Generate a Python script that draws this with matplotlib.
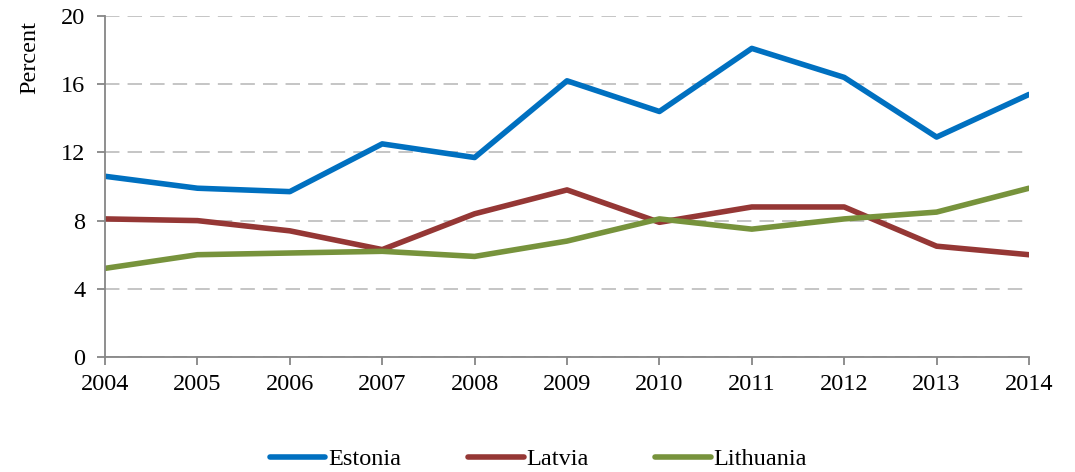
import matplotlib
matplotlib.use('Agg')
import matplotlib.pyplot as plt

years = [2004, 2005, 2006, 2007, 2008, 2009, 2010, 2011, 2012, 2013, 2014]
estonia = [10.6, 9.9, 9.7, 12.5, 11.7, 16.2, 14.4, 18.1, 16.4, 12.9, 15.4]
latvia = [8.1, 8.0, 7.4, 6.3, 8.4, 9.8, 7.9, 8.8, 8.8, 6.5, 6.0]
lithuania = [5.2, 6.0, 6.1, 6.2, 5.9, 6.8, 8.1, 7.5, 8.1, 8.5, 9.9]
yticks = [0, 4, 8, 12, 16, 20]

plt.rcParams['font.family'] = ['Liberation Serif', 'DejaVu Serif']
fs = 17.5

fig = plt.figure(figsize=(10.75, 4.72), dpi=100)
ax = fig.add_axes([0.0977, 0.2436, 0.8595, 0.7225])

ax.plot(years, estonia, color='#0070c0', lw=4, label='Estonia', solid_capstyle='round')
ax.plot(years, latvia, color='#953735', lw=4, label='Latvia', solid_capstyle='round')
ax.plot(years, lithuania, color='#77933c', lw=4, label='Lithuania', solid_capstyle='round')

ax.set_xlim(2004, 2014)
ax.set_ylim(0, 20)
ax.set_xticks(years)
ax.set_yticks(yticks)
ax.yaxis.grid(True, color='#c0c0c0', linestyle=(0, (8, 4.5)), lw=1.3)
ax.set_axisbelow(True)
for s in ['top', 'right']:
    ax.spines[s].set_visible(False)
for s in ['left', 'bottom']:
    ax.spines[s].set_color('#868686')
    ax.spines[s].set_linewidth(1.3)
ax.tick_params(axis='both', color='#868686', length=6, width=1.3, labelsize=fs)
ax.tick_params(axis='x', pad=6)
ax.tick_params(axis='y', pad=8)
ax.set_ylabel('Percent', fontsize=fs)
ax.yaxis.set_label_coords(-0.070, 0.877)

ax.legend(loc='center', bbox_to_anchor=(0.469, -0.3), ncol=3, frameon=False,
          handlelength=2.3, handletextpad=0.1, columnspacing=2.75, fontsize=fs)

fig.savefig('out.png', dpi=100)
